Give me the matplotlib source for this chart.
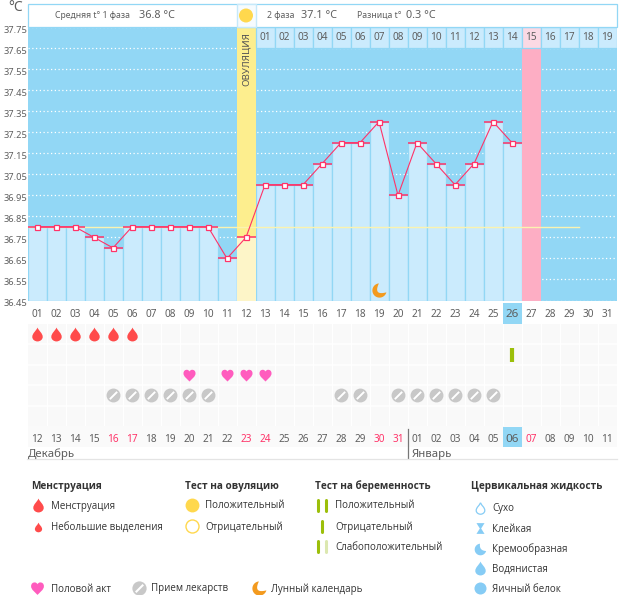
import numpy as np
import matplotlib
matplotlib.use("Agg")
import matplotlib.pyplot as plt
from matplotlib.path import Path
from matplotlib.patches import Rectangle, Circle
from matplotlib.transforms import ScaledTranslation

W, H = 626, 595

# cycle days and basal temperature
cycle_days = list(range(1, 27))
temps = [36.80, 36.80, 36.80, 36.75, 36.70, 36.80, 36.80, 36.80, 36.80, 36.80, 36.65, 36.75, 37.00,
         37.00, 37.00, 37.10, 37.20, 37.20, 37.30, 36.95, 37.20, 37.10, 37.00, 37.10, 37.30, 37.20]
cover_line = 36.8
cover_end = 29.5
y_ticks = [37.75, 37.65, 37.55, 37.45, 37.35, 37.25, 37.15, 37.05, 36.95, 36.85, 36.75, 36.65, 36.55, 36.45]
ovulation_day = 12
period_day = 27
moon_day = 19
moon_temp = 36.50
current_day = 26

cycle_labels = [f"{d:02d}" for d in range(1, 32)]
phase2_labels = [f"{d:02d}" for d in range(1, 20)]
date_labels = ["12", "13", "14", "15", "16", "17", "18", "19", "20", "21", "22", "23", "24", "25", "26", "27",
               "28", "29", "30", "31", "01", "02", "03", "04", "05", "06", "07", "08", "09", "10", "11"]
weekend_labels = [5, 6, 12, 13, 19, 20, 27]

# symptom rows, by cycle day
blood_days = [1, 2, 3, 4, 5, 6]
test_days = [26]
sex_days = [9, 11, 12, 13]
pill_days = [5, 6, 7, 8, 9, 10, 17, 18, 20, 21, 22, 23, 24, 25]

BG = "#92D7F5"
BAR = "#CBEBFD"
PINK = "#FF3368"
TXT = "#5E5E5E"
DARK = "#333333"
TICK_FONT = "Noto Sans"
LEG_FONT = "Open Sans"

# marker shapes
drop = Path([(0, 1), (0.2, 0.5), (0.75, 0.2), (0.75, -0.35), (0.75, -0.75), (0.35, -1), (0, -1), (-0.35, -1),
             (-0.75, -0.75), (-0.75, -0.35), (-0.75, 0.2), (-0.2, 0.5), (0, 1)],
            [Path.MOVETO] + [Path.CURVE4] * 12)
heart = Path([(0, -1), (-0.4, -0.55), (-1, -0.2), (-1, 0.35), (-1, 0.8), (-0.7, 0.95), (-0.45, 0.95), (-0.2, 0.95),
              (-0.05, 0.8), (0, 0.65), (0.05, 0.8), (0.2, 0.95), (0.45, 0.95), (0.7, 0.95), (1, 0.8), (1, 0.35),
              (1, -0.2), (0.4, -0.55), (0, -1)],
             [Path.MOVETO] + [Path.CURVE4] * 18)
slash = Path([(-0.5, -0.5), (0.5, 0.5)], [Path.MOVETO, Path.LINETO])
hourglass = Path([(-0.75, 1), (0.75, 1), (0.12, 0), (0.75, -1), (-0.75, -1), (-0.12, 0), (-0.75, 1)])


def crescent(ctrl_x, ctrl_y):
    # outer arc through the lower left, closed by a curve bent into the disc
    a = np.radians(np.linspace(95, 345, 40))
    outer = np.column_stack([np.cos(a), np.sin(a)])
    t = np.linspace(0, 1, 20)[:, None]
    p0, p2 = outer[-1], outer[0]
    inner = (1 - t) ** 2 * p0 + 2 * t * (1 - t) * np.array([ctrl_x, ctrl_y]) + t ** 2 * p2
    return Path(np.vstack([outer, inner]))


moon = crescent(-0.9, -0.75)
cream = crescent(-0.25, -0.2)


def px_axes(left, top, right, bottom):
    return fig.add_axes([left / W, 1 - bottom / H, (right - left) / W, (bottom - top) / H])


def draw_pills(ax, xs, ys, s, lw):
    ax.scatter(xs, ys, s=s, c="#C8C8C8", linewidths=0, zorder=4, clip_on=False)
    ax.scatter(xs, ys, s=s * 0.28, marker=slash, c="white", linewidths=lw, zorder=5, clip_on=False)


fig = plt.figure(figsize=(W / 100, H / 100), dpi=100, facecolor="white")

# temperature chart
ax = px_axes(27.5, 27, 616.5, 300.5)
ax.set_xlim(0.5, 31.5)
ax.set_ylim(36.45, 37.75)
ax.set_facecolor(BG)
for s in ax.spines.values():
    s.set_visible(False)
for t in y_ticks:
    ax.axhline(t, color="white", lw=0.9, ls=(0, (1, 2)), zorder=1)
ax.bar(cycle_days, np.array(temps) - 36.45, bottom=36.45, width=1, color=BAR, edgecolor=BG, linewidth=0.9, zorder=2)
ax.axvspan(ovulation_day - 0.5, ovulation_day + 0.5, color="#FDEE8E", lw=0, zorder=2.1)
ax.bar([ovulation_day], [temps[ovulation_day - 1] - 36.45], bottom=36.45, width=1, color="#FDF5C8", linewidth=0, zorder=2.2)
ax.axvspan(period_day - 0.5, period_day + 0.5, color="#FDAEC4", lw=0, zorder=2.1)

# second phase numbering strip
for i, lab in enumerate(phase2_labels):
    x = ovulation_day + 1 + i
    col = "#FBD9E4" if x == period_day else BAR
    ax.bar([x], [0.1], bottom=37.65, width=1, color=col, edgecolor=BG, linewidth=0.9, zorder=2.3)
    ax.text(x, 37.70, lab, ha="center", va="center", fontsize=7.2, family=TICK_FONT, color=TXT, zorder=6)

ax.plot([0.5, cover_end], [cover_line, cover_line], color="#FBF3B0", lw=1, zorder=2.5)
ax.hlines(temps, np.array(cycle_days) - 0.5, np.array(cycle_days) + 0.5, color=PINK, lw=1.1, zorder=3)
ax.plot(cycle_days, temps, color=PINK, lw=0.8, zorder=3.2)
ax.plot(cycle_days, temps, ls="none", marker="s", ms=3.6, mfc="white", mec=PINK, mew=0.9, zorder=3.4)
ax.text(ovulation_day, 37.60, "ОВУЛЯЦИЯ", rotation=90, ha="center", va="center", fontsize=7, family=TICK_FONT,
        color="#555555", zorder=6)
ax.scatter([moon_day], [moon_temp], marker=moon, s=105, c="#F39A1E", linewidths=0, zorder=6)

ax.set_yticks(y_ticks)
ax.set_yticklabels([f"{t:.2f}" for t in y_ticks], fontsize=6.7, family=TICK_FONT, color=TXT)
ax.set_xticks(cycle_days + list(range(27, 32)))
ax.set_xticklabels(cycle_labels, fontsize=7.2, family=TICK_FONT, color=TXT)
ax.tick_params(length=0)
ax.tick_params(axis="y", pad=0)
ax.tick_params(axis="x", pad=6)
shift = ScaledTranslation(0, -2 / 100, fig.dpi_scale_trans)
for lab in ax.get_yticklabels():
    lab.set_transform(lab.get_transform() + shift)
ax.add_patch(Rectangle((current_day - 0.5, -0.085), 1, 0.075, transform=ax.get_xaxis_transform(), color=BG, lw=0,
                       clip_on=False, zorder=0))
ax.get_xticklabels()[current_day - 1].set_fontsize(8.4)

# symptom strip
sx = px_axes(27.5, 324, 616.5, 426)
sx.set_xlim(0.5, 31.5)
sx.set_ylim(5, 0)
sx.set_facecolor("#F9F9F9")
for s in sx.spines.values():
    s.set_visible(False)
for v in np.arange(1.5, 31):
    sx.axvline(v, color="white", lw=0.9, zorder=1)
for v in range(1, 5):
    sx.axhline(v, color="white", lw=1.2, zorder=1)
sx.scatter(blood_days, [0.5] * len(blood_days), marker=drop, s=100, c="#FF4B4B", linewidths=0, zorder=4)
sx.scatter(test_days, [1.5] * len(test_days), marker="|", s=100, c="#9CBF0A", linewidths=3, zorder=4)
sx.scatter(sex_days, [2.5] * len(sex_days), marker=heart, s=75, c="#FF5CBE", linewidths=0, zorder=4)
draw_pills(sx, pill_days, [3.5] * len(pill_days), 100, 1.4)
sx.set_xticks(range(1, 32))
sx.set_xticklabels(date_labels, fontsize=7.2, family=TICK_FONT, color=TXT)
sx.tick_params(length=0, axis="x", pad=6)
sx.set_yticks([])
for i in weekend_labels:
    sx.get_xticklabels()[i - 1].set_color(PINK)
sx.get_xticklabels()[current_day - 1].set_fontsize(8.4)
sx.add_patch(Rectangle((0.5, 5.0), 31, 1.02, color="#FAFAFA", lw=0, clip_on=False, zorder=0))
sx.add_patch(Rectangle((current_day - 0.5, 5.04), 1, 0.98, color=BG, lw=0, clip_on=False, zorder=0.5))

# header, month names and legend live in a pixel overlay
ov = fig.add_axes([0, 0, 1, 1], zorder=5)
ov.set_xlim(0, W)
ov.set_ylim(H, 0)
ov.axis("off")
ov.add_patch(Rectangle((27.5, 3.5), 589, 23.5, fc="white", ec=BG, lw=0.9))
ov.add_patch(Rectangle((236.5, 3.5), 19, 23.5, fc="#F6FBFE", ec="#C6E9FA", lw=1))
ov.add_patch(Circle((246, 15.5), 7, fc="#FFD84D", ec="none"))
ov.text(8, 7.5, "°C", fontsize=10, family=TICK_FONT, color=TXT, va="center")
for x, s, fs in [(55, "Средняя t° 1 фаза", 6.2), (139, "36.8 °C", 7.8), (267, "2 фаза", 6.2), (301, "37.1 °C", 7.8),
                 (357, "Разница t°", 6.2), (406, "0.3 °C", 7.8)]:
    ov.text(x, 15.5, s, fontsize=fs, family=TICK_FONT, color=TXT, va="center")
ov.plot([407.5, 407.5], [429, 458], color="#777777", lw=0.9)
ov.plot([27, 617], [458.5, 458.5], color="#E4E4E4", lw=0.9)
ov.text(28, 454, "Декабрь", fontsize=8.2, family=TICK_FONT, color=TXT, va="center")
ov.text(412, 454, "Январь", fontsize=8.2, family=TICK_FONT, color=TXT, va="center")

for x, s in [(31, "Менструация"), (185, "Тест на овуляцию"), (315, "Тест на беременность"), (471, "Цервикальная жидкость")]:
    ov.text(x, 486, s, fontsize=7.2, family=LEG_FONT, weight="bold", color=DARK, va="center")
for x, y, s in [(51, 506, "Менструация"), (51, 527, "Небольшие выделения"), (205, 506, "Положительный"),
                (205, 527, "Отрицательный"), (335, 506, "Положительный"), (335, 527, "Отрицательный"),
                (335, 547, "Слабоположительный"), (492, 508, "Сухо"), (492, 529, "Клейкая"), (492, 549, "Кремообразная"),
                (492, 569, "Водянистая"), (492, 589, "Яичный белок"), (51, 589, "Половой акт"),
                (151, 589, "Прием лекарств"), (271, 589, "Лунный календарь")]:
    ov.text(x, y, s, fontsize=7.0, family=LEG_FONT, color=DARK, va="center")

# legend icons
ov.scatter([38], [505], marker=drop, s=100, c="#FF4B4B", linewidths=0)
ov.scatter([38], [526.5], marker=drop, s=48, c="#FF4B4B", linewidths=0)
ov.scatter([192], [505], s=100, c="#FFD84D", linewidths=0)
ov.scatter([192], [526], s=88, c="white", edgecolors="#FFD84D", linewidths=1)
for x, y, c in [(318, 505, "#9CBF0A"), (326, 505, "#9CBF0A"), (322, 526, "#9CBF0A"), (318, 546, "#9CBF0A"), (326, 546, "#DCE8B0")]:
    ov.plot([x, x], [y - 5.5, y + 5.5], color=c, lw=2.2, solid_capstyle="round")
ov.scatter([480], [508], marker=drop, s=68, c="white", edgecolors="#86CCF5", linewidths=0.9)
ov.scatter([480], [528], marker=hourglass, s=60, c="#86CCF5", linewidths=0)
ov.scatter([480], [548.5], marker=cream, s=70, c="#86CCF5", linewidths=0)
ov.scatter([480], [568], marker=drop, s=100, c="#86CCF5", linewidths=0)
ov.scatter([480], [588], marker="o", s=75, c="#86CCF5", linewidths=0)
ov.scatter([37], [588], marker=heart, s=85, c="#FF5CBE", linewidths=0)
draw_pills(ov, [139], [588], 105, 1.5)
ov.scatter([259], [588], marker=moon, s=105, c="#F39A1E", linewidths=0)

fig.savefig("out.png", dpi=100)
